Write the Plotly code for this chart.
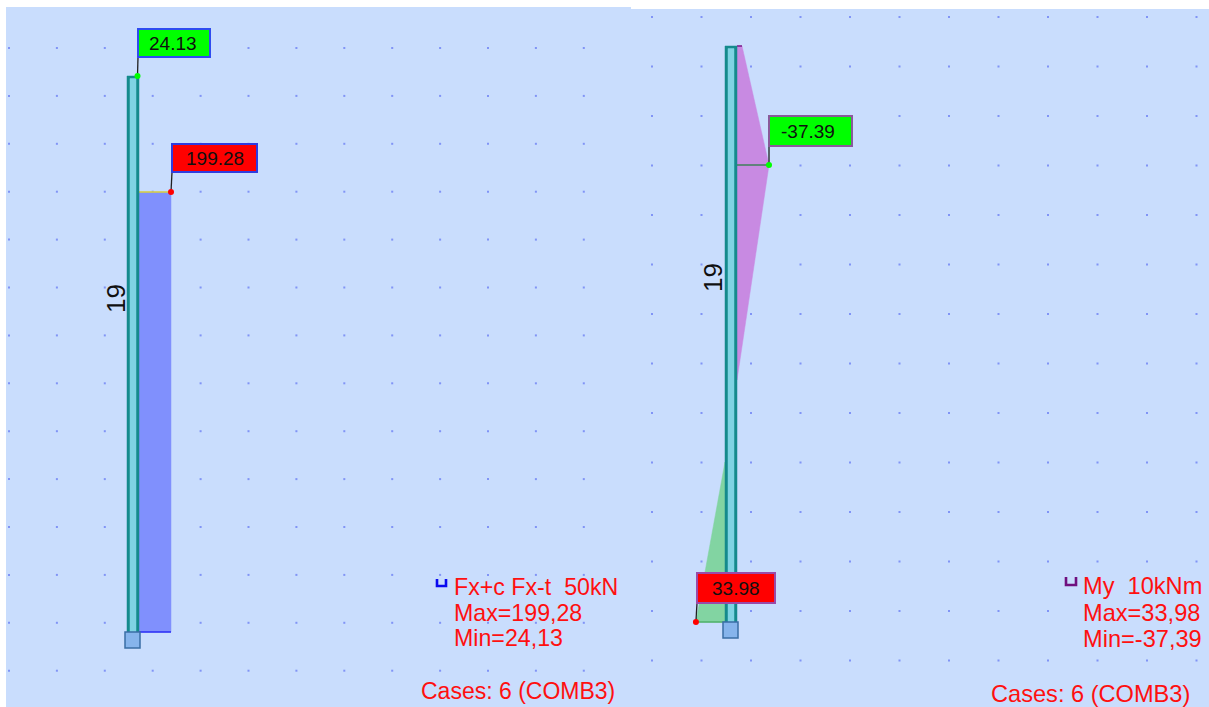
import plotly.graph_objects as go

# ---- values ----
axial_values = [24.13, 199.28]
moment_values = [-37.39, 33.98]
member_label = "19"
left_legend = ["Fx+c Fx-t  50kN", "Max=199,28", "Min=24,13"]
right_legend = ["My  10kNm", "Max=33,98", "Min=-37,39"]
case_label = "Cases: 6 (COMB3)"

FONT = "Liberation Sans"
W, H = 1209, 707
AXIAL_SCALE = 32 / 199.28      # px per kN
MOMENT_SCALE = 32 / 37.39      # px per kNm

fig = go.Figure()
shapes = []
ann = []


def rect(x0, y0, x1, y1, fill, line=None, lw=0, layer="below"):
    shapes.append(dict(type="rect", xref="x", yref="y", x0=x0, y0=y0, x1=x1, y1=y1,
                       fillcolor=fill, line=dict(color=line or fill, width=lw), layer=layer))


def line(xs, ys, color, width=1):
    fig.add_trace(go.Scatter(x=xs, y=ys, mode="lines", line=dict(color=color, width=width),
                             hoverinfo="skip", showlegend=False))


def poly(xs, ys, fill):
    fig.add_trace(go.Scatter(x=xs, y=ys, mode="lines", fill="toself", fillcolor=fill,
                             line=dict(color=fill, width=0.5), hoverinfo="skip", showlegend=False))


def dots(xs, ys, opacity=0.5):
    gx, gy = [], []
    for y in ys:
        for x in xs:
            gx.append(x)
            gy.append(y)
    fig.add_trace(go.Scatter(x=gx, y=gy, mode="markers",
                             marker=dict(symbol="square", size=2, color="#3a4cf0", opacity=opacity,
                                         line=dict(width=0)),
                             hoverinfo="skip", showlegend=False))


def text(x, y, s, size, color="#ff1010", anchor="left", angle=0):
    ann.append(dict(x=x, y=y, xref="x", yref="y", text=s, showarrow=False, xanchor=anchor,
                    yanchor="middle", textangle=angle, font=dict(family=FONT, size=size, color=color)))


def member(x0, x1, top, bottom):
    xs = [x0, x1, x1, x0, x0]
    ys = [top, top, bottom, bottom, top]
    poly(xs, ys, "#158a8c")
    poly([x0 + 3, x1 - 3, x1 - 3, x0 + 3, x0 + 3],
         [top + 2.5, top + 2.5, bottom, bottom, top + 2.5], "#7fd3e3")


def support(x0, y0):
    fig.add_shape(type="rect", x0=x0, y0=y0, x1=x0 + 15, y1=y0 + 16, fillcolor="#86b4ec",
                  line=dict(color="#3a6ea5", width=1.5), layer="above")


def value_tag(x0, y0, x1, y1, value, fill, border, px, py, dx=0.0):
    line([px, x0], [py, y1], "#202020", 1.3)
    fig.add_trace(go.Scatter(x=[px], y=[py], mode="markers",
                             marker=dict(size=6, color=fill, line=dict(width=0)),
                             hoverinfo="skip", showlegend=False))
    fig.add_shape(type="rect", x0=x0, y0=y0, x1=x1, y1=y1, fillcolor=fill,
                  line=dict(color=border, width=2), layer="above")
    text((x0 + x1) / 2 + dx, (y0 + y1) / 2 + 0.5, f"{value:.2f}", 19, "#101010", "center")


# panels
rect(0, 0, W, H, "#ffffff")
rect(6, 7, 631, H, "#c9ddfd")
rect(631, 9, W, H, "#c9ddfd")

# grids
dots([9 + 47.9 * i for i in range(13)], [48 + 47.9 * i for i in range(14)])
dots([652 + 49.5 * i for i in range(12)], [17 + 49.5 * i for i in range(14)])

# ---- left panel: axial force ----
ax_top, ax_max = axial_values
a_base = 139
a_edge = a_base + ax_max * AXIAL_SCALE
poly([a_base, a_edge, a_edge, a_base, a_base], [192, 192, 632, 632, 192], "#8090fd")
line([a_base, a_edge], [632, 632], "#2a2cf5", 1.5)
line([a_base, a_edge], [192, 192], "#dcd23c", 1.5)
member(127, 139, 76, 632)
support(125, 632)
value_tag(138, 29, 210, 57, ax_top, "#00ff00", "#2f4cf0", a_base - 1.5, 76, -1)
value_tag(172, 144, 257, 172, ax_max, "#ff0000", "#2f3ce0", a_edge, 192)
text(116, 299, member_label, 26, "#101010", "center", -90)

# ---- right panel: bending moment ----
m_min, m_max = moment_values
m_base_r, m_base_l = 737, 725
m_edge_r = m_base_r - m_min * MOMENT_SCALE
m_edge_l = m_base_l - m_max * MOMENT_SCALE
poly([m_base_r, 742, m_edge_r, m_base_r, m_base_r], [46, 46, 165, 380, 46], "#c88ae2")
poly([m_base_l, m_edge_l, m_base_l, m_base_l], [462, 622, 622, 462], "#82d4a2")
line([m_base_r, m_edge_r], [165, 165], "#3f7f5a", 1.5)
line([m_edge_l, m_base_l], [622, 622], "#4fb06a", 1.5)
line([m_base_r, 742], [46, 46], "#7a1a8a", 1.5)
member(725, 737, 46, 622)
support(723, 622)
value_tag(769, 116, 852, 146, m_min, "#00ff00", "#8a5a9a", m_edge_r, 165, -2.5)
value_tag(697, 573, 775, 603, m_max, "#ff0000", "#9a4aa8", m_edge_l, 622)
text(713, 278, member_label, 26, "#101010", "center", -90)

# ---- legends ----
line([437, 437, 446, 446], [579, 586, 586, 579], "#0a0af0", 2.6)
for s, y in zip(left_legend, [587, 613, 638]):
    text(452, y, s, 23.2)
text(419, 691, case_label, 23)

line([1066, 1066, 1076, 1076], [577, 585, 585, 577], "#70107f", 2.6)
for s, y in zip(right_legend, [586, 613, 639]):
    text(1081, y, s, 23.6)
text(989, 694, case_label, 23.6)

fig.update_layout(
    width=W, height=H, autosize=False,
    margin=dict(l=0, r=0, t=0, b=0),
    paper_bgcolor="#ffffff", plot_bgcolor="#ffffff",
    showlegend=False,
    xaxis=dict(range=[0, W], visible=False, fixedrange=True),
    yaxis=dict(range=[H, 0], visible=False, fixedrange=True),
    annotations=ann,
)
for s in shapes:
    fig.add_shape(**s)
fig.write_html("out.html", config={"displayModeBar": False},
               post_script="document.body.style.margin='0';document.body.style.overflow='hidden';")
